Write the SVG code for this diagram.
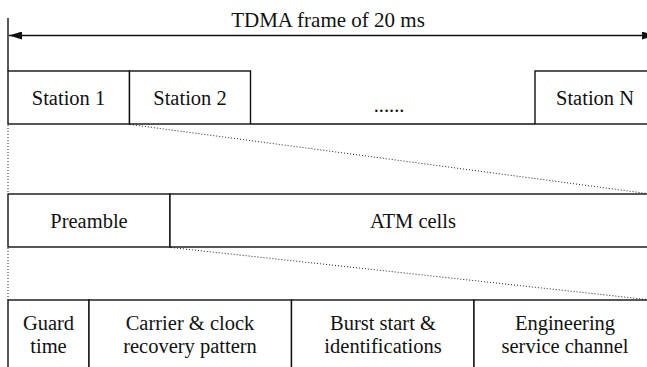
<svg xmlns="http://www.w3.org/2000/svg" width="647" height="367" viewBox="0 0 647 367">
<defs>
<style>
.box{fill:#fff;stroke:#111;stroke-width:1.4}
.ln{stroke:#111;stroke-width:1.4;fill:none}
.dot{stroke:#222;stroke-width:1;stroke-dasharray:1 2;fill:none}
</style>
<marker id="ah" viewBox="0 0 13 8" refX="13" refY="4" markerWidth="13" markerHeight="8" markerUnits="userSpaceOnUse" orient="auto-start-reverse">
<path d="M0,0 L13,4 L0,8 Z" fill="#111"/>
</marker>
</defs>
<rect width="647" height="367" fill="#fff"/>
<g id="connectors">
<line class="ln" x1="8" y1="18" x2="8" y2="71"/>
<line class="ln" x1="9" y1="35.5" x2="655" y2="35.5" marker-start="url(#ah)" marker-end="url(#ah)"/>
<line class="dot" x1="8" y1="125" x2="8" y2="194"/>
<line class="dot" x1="8" y1="248" x2="8" y2="300"/>
<line class="dot" x1="130" y1="124.5" x2="647" y2="193.5"/>
<line class="dot" x1="171" y1="247.5" x2="647" y2="299.5"/>
</g>
<g font-family="Liberation Serif, Times New Roman, serif" font-size="20.5" fill="#111" text-anchor="middle">
<g id="title"><text x="328" y="26.5" font-size="21">TDMA frame of 20 ms</text></g>
<g id="station1"><rect class="box" x="8" y="71" width="121.5" height="53"/><text x="68.5" y="105">Station 1</text></g>
<g id="station2"><rect class="box" x="129.5" y="71" width="121" height="53"/><text x="190" y="105">Station 2</text></g>
<g id="gap"><line class="ln" x1="250.5" y1="124" x2="535" y2="124"/><text x="389" y="112">......</text></g>
<g id="stationN"><rect class="box" x="535" y="71" width="125" height="53"/><text x="595" y="105">Station N</text></g>
<g id="preamble"><rect class="box" x="8" y="194" width="162" height="53"/><text x="89" y="228">Preamble</text></g>
<g id="atm"><rect class="box" x="170" y="194" width="490" height="53"/><text x="413" y="228">ATM cells</text></g>
<g id="guard"><rect class="box" x="8" y="300" width="81" height="80"/><text x="48.5" y="330">Guard</text><text x="48.5" y="353">time</text></g>
<g id="carrier"><rect class="box" x="89" y="300" width="202.5" height="80"/><text x="190" y="330">Carrier &amp; clock</text><text x="190" y="353">recovery pattern</text></g>
<g id="burst"><rect class="box" x="291.5" y="300" width="182.5" height="80"/><text x="383" y="330">Burst start &amp;</text><text x="383" y="353">identifications</text></g>
<g id="engineering"><rect class="box" x="474" y="300" width="186" height="80"/><text x="565" y="330">Engineering</text><text x="565" y="353">service channel</text></g>
</g>
</svg>
